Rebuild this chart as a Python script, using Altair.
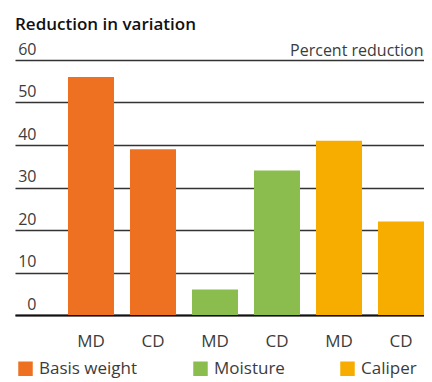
import altair as alt
import pandas as pd

properties = ["Basis weight", "Basis weight", "Moisture", "Moisture", "Caliper", "Caliper"]
directions = ["MD", "CD", "MD", "CD", "MD", "CD"]
values = [56, 39, 6, 34, 41, 22]
prop_order = ["Basis weight", "Moisture", "Caliper"]
prop_colors = ["#ED7120", "#8BBD4E", "#F6AD00"]
y_ticks = [0, 10, 20, 30, 40, 50, 60]

keys = [f"{p} {d}" for p, d in zip(properties, directions)]
df = pd.DataFrame({"key": keys, "property": properties, "dir": directions, "value": values})

FONT = "Open Sans"
TXT = "#3c3c3c"

chart = alt.Chart(df).mark_bar().encode(
    x=alt.X(
        "key:N",
        sort=keys,
        scale=alt.Scale(paddingInner=0.258, paddingOuter=0.4274, align=1),
        axis=alt.Axis(
            title=None, labelAngle=0, ticks=False, grid=False,
            domain=True, domainColor="#111111", domainWidth=2,
            labelFontSize=17, labelFont=FONT, labelColor=TXT, labelPadding=18,
            labelExpr="substring(datum.label, length(datum.label) - 2)",
        ),
    ),
    y=alt.Y(
        "value:Q",
        scale=alt.Scale(domain=[0, 60], nice=False),
        axis=alt.Axis(
            values=y_ticks, title="Percent reduction", titleAngle=0,
            titleX=408, titleY=-5, titleAlign="right", titleBaseline="alphabetic",
            titleFont=FONT, titleFontSize=16, titleFontWeight="normal", titleColor=TXT,
            domain=False, ticks=False, grid=True, gridColor="#333333", gridWidth=1.3,
            labelAlign="right", labelBaseline="alphabetic", labelPadding=-21, labelOffset=-6,
            labelFont=FONT, labelFontSize=16, labelColor=TXT,
        ),
    ),
    color=alt.Color(
        "property:N",
        scale=alt.Scale(domain=prop_order, range=prop_colors),
        legend=alt.Legend(
            title=None, orient="none", legendX=2, legendY=300, direction="horizontal",
            columns=3, symbolType="square", symbolSize=210, symbolStrokeWidth=0,
            labelFont=FONT, labelFontSize=17, labelColor=TXT, labelOffset=5,
            columnPadding=54, padding=0,
        ),
    ),
).properties(
    width=409, height=255,
    padding={"left": 7, "top": 52, "right": 0, "bottom": 67},
    autosize=alt.AutoSizeParams(type="none"),
    title=alt.TitleParams(
        "Reduction in variation", anchor="start", frame="group",
        font=FONT, fontSize=17, fontWeight=600, color="#111111", offset=7,
    ),
).configure_view(stroke=None)

chart.save("out.html", embed_options={"renderer": "svg", "actions": False})
